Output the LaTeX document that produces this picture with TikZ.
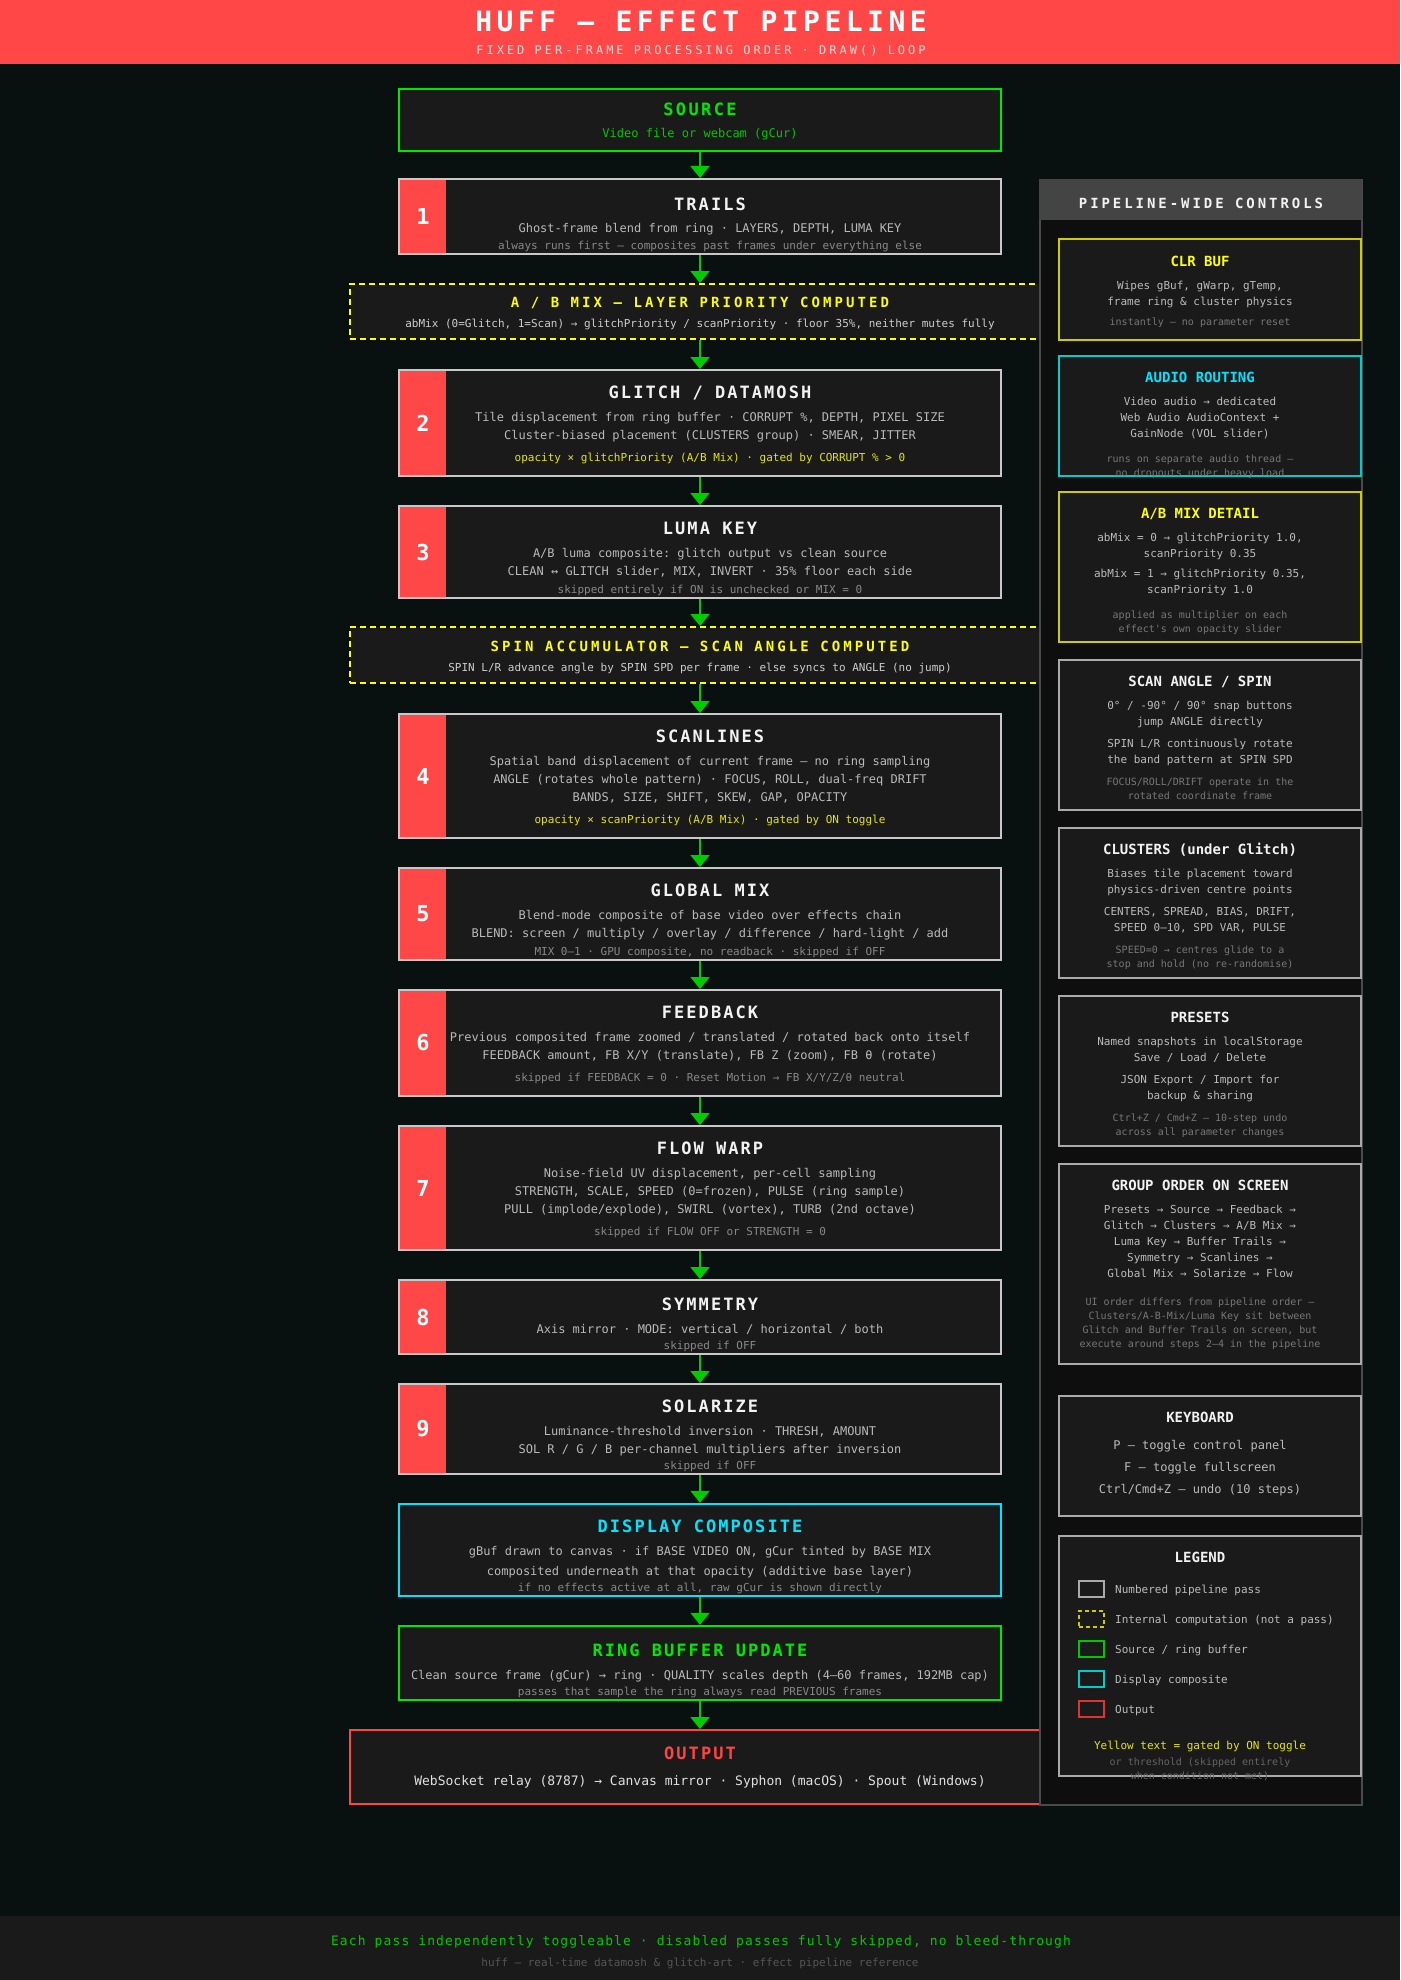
\documentclass[tikz,border=0pt]{standalone}
\usepackage{fontspec}
\setmonofont{DejaVu Sans Mono}
\renewcommand{\familydefault}{\ttdefault}
\usetikzlibrary{arrows.meta}
\definecolor{bg}{RGB}{9,16,16}
\definecolor{headred}{RGB}{255,71,71}
\definecolor{headsub}{RGB}{255,218,218}
\definecolor{boxfill}{RGB}{26,26,26}
\definecolor{passborder}{RGB}{200,200,200}
\definecolor{srcgreen}{RGB}{0,232,0}
\definecolor{srcsub}{RGB}{0,200,0}
\definecolor{arrgreen}{RGB}{0,204,0}
\definecolor{dispcyan}{RGB}{0,229,255}
\definecolor{outred}{RGB}{255,68,68}
\definecolor{numred}{RGB}{255,71,71}
\definecolor{dashyellow}{RGB}{255,255,0}
\definecolor{gateyellow}{RGB}{230,230,0}
\definecolor{titlewhite}{RGB}{242,242,242}
\definecolor{bodygray}{RGB}{185,185,185}
\definecolor{dimgray}{RGB}{136,136,136}
\definecolor{subgray}{RGB}{205,205,205}
\definecolor{outtext}{RGB}{224,224,224}
\definecolor{panelfill}{RGB}{14,14,14}
\definecolor{panelborder}{RGB}{74,74,74}
\definecolor{panelhead}{RGB}{68,68,68}
\definecolor{sideyellow}{RGB}{204,204,0}
\definecolor{sidecyan}{RGB}{0,204,204}
\definecolor{sidegray}{RGB}{170,170,170}
\definecolor{sidebody}{RGB}{187,187,187}
\definecolor{sidedim}{RGB}{119,119,119}
\definecolor{legdim}{RGB}{100,100,100}
\definecolor{legred}{RGB}{221,51,51}
\definecolor{footfill}{RGB}{26,26,26}
\definecolor{footgreen}{RGB}{0,200,0}
\definecolor{footgray}{RGB}{85,85,85}
\newcommand\fsz[1]{\fontsize{#1}{#1}\selectfont}
\newcommand\lsp[1]{\addfontfeature{LetterSpace=#1}}
\begin{document}
\begin{tikzpicture}[x=1pt,y=-1pt,
  passbox/.style={draw=passborder, fill=boxfill, line width=2pt, minimum width=602, inner sep=0pt},
  greenbox/.style={passbox, draw=srcgreen, line width=2.5pt},
  cyanbox/.style={passbox, draw=dispcyan, line width=2.5pt},
  dashbox/.style={draw=dashyellow, fill=boxfill, line width=2pt, dash pattern=on 6pt off 4pt, minimum width=700, inner sep=0pt},
  outbox/.style={draw=outred, fill=boxfill, line width=2pt, minimum width=700, inner sep=0pt},
  strip/.style={fill=numred, minimum width=46, inner sep=0pt, text=white, font=\fsz{22}\bfseries},
  arr/.style={draw=arrgreen, line width=2pt, -{Triangle[width=19pt,length=12pt]}},
  tt/.style={inner sep=0pt, anchor=mid},
  ttl/.style={tt, yshift=-4pt, text=titlewhite, font=\fsz{17}\bfseries\lsp{12}},
  body/.style={tt, yshift=-3pt, text=bodygray, font=\fsz{12}},
  dim/.style={tt, yshift=-2.5pt, text=dimgray, font=\fsz{11}},
  gate/.style={tt, yshift=-2.5pt, text=gateyellow, font=\fsz{11}},
  dttl/.style={tt, yshift=-3pt, text=dashyellow, font=\fsz{14}\bfseries\lsp{22}},
  dsub/.style={tt, yshift=-2.5pt, text=subgray, font=\fsz{11}},
  sidebox/.style={fill=boxfill, line width=2pt, minimum width=302, inner sep=0pt},
  sttl/.style={tt, yshift=-3.5pt, text=titlewhite, font=\fsz{14}\bfseries},
  sbody/.style={tt, yshift=-2.5pt, text=sidebody, font=\fsz{11}},
  sdim/.style={tt, yshift=-2.5pt, text=sidedim, font=\fsz{10}},
  swatch/.style={fill=boxfill, line width=2pt, minimum width=25, minimum height=16, inner sep=0pt},
  legtext/.style={inner sep=0pt, anchor=mid west, yshift=-2pt, text=sidebody, font=\fsz{11}}
]
\useasboundingbox (0,0) rectangle (1400,1980);
\fill[bg] (0,0) rectangle (1400,1980);
% header
\fill[headred] (0,0) rectangle (1400,64);
\node[tt, yshift=-7pt, text=white, font=\fsz{28}\bfseries\lsp{16}] (title) at (701,22) {HUFF — EFFECT PIPELINE};
\node[tt, yshift=-2.5pt, text=headsub, font=\fsz{12}\lsp{25}] (subtitle) at (701,49.5) {FIXED PER-FRAME PROCESSING ORDER · DRAW() LOOP};

% main boxes
\node[greenbox, minimum height=62] (source) at (700,120) {};
\node[passbox, minimum height=75] (trails) at (700,216.5) {};
\node[strip, minimum height=73] (n1) at (423,216.5) {1};
\node[dashbox, minimum height=55] (abmix) at (700,311.5) {};
\node[passbox, minimum height=106] (glitch) at (700,423) {};
\node[strip, minimum height=104] (n2) at (423,423) {2};
\node[passbox, minimum height=92] (luma) at (700,552) {};
\node[strip, minimum height=90] (n3) at (423,552) {3};
\node[dashbox, minimum height=56] (spin) at (700,655) {};
\node[passbox, minimum height=124] (scan) at (700,776) {};
\node[strip, minimum height=122] (n4) at (423,776) {4};
\node[passbox, minimum height=92] (global) at (700,914) {};
\node[strip, minimum height=90] (n5) at (423,914) {5};
\node[passbox, minimum height=106] (feedback) at (700,1043) {};
\node[strip, minimum height=104] (n6) at (423,1043) {6};
\node[passbox, minimum height=124] (flow) at (700,1188) {};
\node[strip, minimum height=122] (n7) at (423,1188) {7};
\node[passbox, minimum height=74] (sym) at (700,1317) {};
\node[strip, minimum height=72] (n8) at (423,1317) {8};
\node[passbox, minimum height=90] (sol) at (700,1429) {};
\node[strip, minimum height=88] (n9) at (423,1429) {9};
\node[cyanbox, minimum height=92] (display) at (700,1550) {};
\node[greenbox, minimum height=74] (ring) at (700,1663) {};
\node[outbox, minimum height=74] (output) at (700,1767) {};

% main texts
\node[ttl, text=srcgreen, font=\fsz{17}\bfseries\lsp{14}] (sourceT) at (700,109) {SOURCE};
\node[body, text=srcsub] (sourceS) at (700,132) {Video file or webcam (gCur)};

\node[ttl] (trailsT) at (710,204) {TRAILS};
\node[body] (trailsA) at (710,227) {Ghost-frame blend from ring · LAYERS, DEPTH, LUMA KEY};
\node[dim] (trailsB) at (710,244) {always runs first — composites past frames under everything else};

\node[dttl] (abmixT) at (700,302) {A / B MIX — LAYER PRIORITY COMPUTED};
\node[dsub] (abmixS) at (700,322) {abMix (0=Glitch, 1=Scan) → glitchPriority / scanPriority · floor 35\%, neither mutes fully};

\node[ttl] (glitchT) at (710,392) {GLITCH / DATAMOSH};
\node[body] (glitchA) at (710,416) {Tile displacement from ring buffer · CORRUPT \%, DEPTH, PIXEL SIZE};
\node[body] (glitchB) at (710,434) {Cluster-biased placement (CLUSTERS group) · SMEAR, JITTER};
\node[gate] (glitchC) at (710,456) {opacity × glitchPriority (A/B Mix) · gated by CORRUPT \% > 0};

\node[ttl] (lumaT) at (710,528) {LUMA KEY};
\node[body] (lumaA) at (710,552) {A/B luma composite: glitch output vs clean source};
\node[body] (lumaB) at (710,570) {CLEAN ↔ GLITCH slider, MIX, INVERT · 35\% floor each side};
\node[dim] (lumaC) at (710,588) {skipped entirely if ON is unchecked or MIX = 0};

\node[dttl] (spinT) at (700,646) {SPIN ACCUMULATOR — SCAN ANGLE COMPUTED};
\node[dsub] (spinS) at (700,666) {SPIN L/R advance angle by SPIN SPD per frame · else syncs to ANGLE (no jump)};

\node[ttl] (scanT) at (710,736) {SCANLINES};
\node[body] (scanA) at (710,760) {Spatial band displacement of current frame — no ring sampling};
\node[body] (scanB) at (710,778) {ANGLE (rotates whole pattern) · FOCUS, ROLL, dual-freq DRIFT};
\node[body] (scanC) at (710,796) {BANDS, SIZE, SHIFT, SKEW, GAP, OPACITY};
\node[gate] (scanD) at (710,818) {opacity × scanPriority (A/B Mix) · gated by ON toggle};

\node[ttl] (globalT) at (710,890) {GLOBAL MIX};
\node[body] (globalA) at (710,914) {Blend-mode composite of base video over effects chain};
\node[body] (globalB) at (710,932) {BLEND: screen / multiply / overlay / difference / hard-light / add};
\node[dim] (globalC) at (710,950) {MIX 0–1 · GPU composite, no readback · skipped if OFF};

\node[ttl] (feedbackT) at (710,1012) {FEEDBACK};
\node[body] (feedbackA) at (710,1036) {Previous composited frame zoomed / translated / rotated back onto itself};
\node[body] (feedbackB) at (710,1054) {FEEDBACK amount, FB X/Y (translate), FB Z (zoom), FB θ (rotate)};
\node[dim] (feedbackC) at (710,1076) {skipped if FEEDBACK = 0 · Reset Motion → FB X/Y/Z/θ neutral};

\node[ttl] (flowT) at (710,1148) {FLOW WARP};
\node[body] (flowA) at (710,1172) {Noise-field UV displacement, per-cell sampling};
\node[body] (flowB) at (710,1190) {STRENGTH, SCALE, SPEED (0=frozen), PULSE (ring sample)};
\node[body] (flowC) at (710,1208) {PULL (implode/explode), SWIRL (vortex), TURB (2nd octave)};
\node[dim] (flowD) at (710,1230) {skipped if FLOW OFF or STRENGTH = 0};

\node[ttl] (symT) at (710,1304) {SYMMETRY};
\node[body] (symA) at (710,1328) {Axis mirror · MODE: vertical / horizontal / both};
\node[dim] (symB) at (710,1344) {skipped if OFF};

\node[ttl] (solT) at (710,1406) {SOLARIZE};
\node[body] (solA) at (710,1430) {Luminance-threshold inversion · THRESH, AMOUNT};
\node[body] (solB) at (710,1448) {SOL R / G / B per-channel multipliers after inversion};
\node[dim] (solC) at (710,1464) {skipped if OFF};

\node[ttl, text=dispcyan] (displayT) at (700,1526) {DISPLAY COMPOSITE};
\node[body] (displayA) at (700,1550) {gBuf drawn to canvas · if BASE VIDEO ON, gCur tinted by BASE MIX};
\node[body] (displayB) at (700,1570) {composited underneath at that opacity (additive base layer)};
\node[dim] (displayC) at (700,1586) {if no effects active at all, raw gCur is shown directly};

\node[ttl, text=srcgreen] (ringT) at (700,1650) {RING BUFFER UPDATE};
\node[body] (ringA) at (700,1674) {Clean source frame (gCur) → ring · QUALITY scales depth (4–60 frames, 192MB cap)};
\node[dim] (ringB) at (700,1690) {passes that sample the ring always read PREVIOUS frames};

\node[ttl, text=outred] (outputT) at (700,1753) {OUTPUT};
\node[tt, yshift=-2.5pt, text=outtext, font=\fsz{13}] (outputA) at (700,1780) {WebSocket relay (8787) → Canvas mirror · Syphon (macOS) · Spout (Windows)};

% connectors
\foreach \a/\b in {source/trails, trails/abmix, abmix/glitch, glitch/luma, luma/spin, spin/scan, scan/global, global/feedback, feedback/flow, flow/sym, sym/sol, sol/display, display/ring, ring/output}
  \draw[arr] (\a.south) -- (\b.north);

% side panel
\node[draw=panelborder, fill=panelfill, line width=2pt, minimum width=322, minimum height=1625, inner sep=0pt, anchor=north west] (panel) at (1039,179) {};
\node[fill=panelhead, minimum width=323, minimum height=41, inner sep=0pt, anchor=north west] (phead) at (1038.5,178.5) {};
\node[tt, yshift=-3.5pt, text=titlewhite, font=\fsz{14}\bfseries\lsp{21}] (pheadT) at (1201,202) {PIPELINE-WIDE CONTROLS};

\node[sidebox, draw=sideyellow, minimum height=101] (clr) at (1210,289.5) {};
\node[sttl, text=dashyellow] (clrT) at (1200,260) {CLR BUF};
\node[sbody] (clrA) at (1200,284) {Wipes gBuf, gWarp, gTemp,};
\node[sbody] (clrB) at (1200,300) {frame ring \& cluster physics};
\node[sdim] (clrC) at (1200,320) {instantly — no parameter reset};

\node[sidebox, draw=sidecyan, minimum height=120] (audio) at (1210,416) {};
\node[sttl, text=dispcyan] (audioT) at (1200,376) {AUDIO ROUTING};
\node[sbody] (audioA) at (1200,400) {Video audio → dedicated};
\node[sbody] (audioB) at (1200,416) {Web Audio AudioContext +};
\node[sbody] (audioC) at (1200,432) {GainNode (VOL slider)};
\node[sdim] (audioD) at (1200,457) {runs on separate audio thread —};
\node[sdim] (audioE) at (1200,471) {no dropouts under heavy load};

\node[sidebox, draw=sideyellow, minimum height=150] (abd) at (1210,567) {};
\node[sttl, text=dashyellow] (abdT) at (1200,512) {A/B MIX DETAIL};
\node[sbody] (abdA) at (1200,536) {abMix = 0 → glitchPriority 1.0,};
\node[sbody] (abdB) at (1200,552) {scanPriority 0.35};
\node[sbody] (abdC) at (1200,572) {abMix = 1 → glitchPriority 0.35,};
\node[sbody] (abdD) at (1200,588) {scanPriority 1.0};
\node[sdim] (abdE) at (1200,613) {applied as multiplier on each};
\node[sdim] (abdF) at (1200,627) {effect's own opacity slider};

\node[sidebox, draw=sidegray, minimum height=150] (sang) at (1210,735) {};
\node[sttl] (sangT) at (1200,680) {SCAN ANGLE / SPIN};
\node[sbody] (sangA) at (1200,704) {0° / -90° / 90° snap buttons};
\node[sbody] (sangB) at (1200,720) {jump ANGLE directly};
\node[sbody] (sangC) at (1200,742) {SPIN L/R continuously rotate};
\node[sbody] (sangD) at (1200,758) {the band pattern at SPIN SPD};
\node[sdim] (sangE) at (1200,780) {FOCUS/ROLL/DRIFT operate in the};
\node[sdim] (sangF) at (1200,794) {rotated coordinate frame};

\node[sidebox, draw=sidegray, minimum height=150] (clus) at (1210,903) {};
\node[sttl] (clusT) at (1200,848) {CLUSTERS (under Glitch)};
\node[sbody] (clusA) at (1200,872) {Biases tile placement toward};
\node[sbody] (clusB) at (1200,888) {physics-driven centre points};
\node[sbody] (clusC) at (1200,910) {CENTERS, SPREAD, BIAS, DRIFT,};
\node[sbody] (clusD) at (1200,926) {SPEED 0–10, SPD VAR, PULSE};
\node[sdim] (clusE) at (1200,948) {SPEED=0 → centres glide to a};
\node[sdim] (clusF) at (1200,962) {stop and hold (no re-randomise)};

\node[sidebox, draw=sidegray, minimum height=150] (pres) at (1210,1071) {};
\node[sttl] (presT) at (1200,1016) {PRESETS};
\node[sbody] (presA) at (1200,1040) {Named snapshots in localStorage};
\node[sbody] (presB) at (1200,1056) {Save / Load / Delete};
\node[sbody] (presC) at (1200,1078) {JSON Export / Import for};
\node[sbody] (presD) at (1200,1094) {backup \& sharing};
\node[sdim] (presE) at (1200,1116) {Ctrl+Z / Cmd+Z — 10-step undo};
\node[sdim] (presF) at (1200,1130) {across all parameter changes};

\node[sidebox, draw=sidegray, minimum height=200] (grp) at (1210,1264) {};
\node[sttl] (grpT) at (1200,1184) {GROUP ORDER ON SCREEN};
\node[sbody] (grpA) at (1200,1208) {Presets → Source → Feedback →};
\node[sbody] (grpB) at (1200,1224) {Glitch → Clusters → A/B Mix →};
\node[sbody] (grpC) at (1200,1240) {Luma Key → Buffer Trails →};
\node[sbody] (grpD) at (1200,1256) {Symmetry → Scanlines →};
\node[sbody] (grpE) at (1200,1272) {Global Mix → Solarize → Flow};
\node[sdim] (grpF) at (1200,1300) {UI order differs from pipeline order —};
\node[sdim] (grpG) at (1200,1314) {Clusters/A-B-Mix/Luma Key sit between};
\node[sdim] (grpH) at (1200,1328) {Glitch and Buffer Trails on screen, but};
\node[sdim] (grpI) at (1200,1342) {execute around steps 2–4 in the pipeline};

\node[sidebox, draw=sidegray, minimum height=120] (keys) at (1210,1456) {};
\node[sttl] (keysT) at (1200,1416) {KEYBOARD};
\node[sbody, yshift=-0.5pt, font=\fsz{12}] (keysA) at (1200,1444) {P — toggle control panel};
\node[sbody, yshift=-0.5pt, font=\fsz{12}] (keysB) at (1200,1466) {F — toggle fullscreen};
\node[sbody, yshift=-0.5pt, font=\fsz{12}] (keysC) at (1200,1488) {Ctrl/Cmd+Z — undo (10 steps)};

\node[sidebox, draw=sidegray, minimum height=240] (leg) at (1210,1656) {};
\node[sttl] (legT) at (1200,1556) {LEGEND};
\node[swatch, draw=sidegray] (sw1) at (1091.5,1589) {};
\node[legtext] (lg1) at (1115,1589) {Numbered pipeline pass};
\node[swatch, draw=sideyellow, dash pattern=on 4pt off 3pt] (sw2) at (1091.5,1619) {};
\node[legtext] (lg2) at (1115,1619) {Internal computation (not a pass)};
\node[swatch, draw=srcsub] (sw3) at (1091.5,1649) {};
\node[legtext] (lg3) at (1115,1649) {Source / ring buffer};
\node[swatch, draw=sidecyan] (sw4) at (1091.5,1679) {};
\node[legtext] (lg4) at (1115,1679) {Display composite};
\node[swatch, draw=legred] (sw5) at (1091.5,1709) {};
\node[legtext] (lg5) at (1115,1709) {Output};
\node[tt, yshift=-2.5pt, text=gateyellow, font=\fsz{11}] (legY) at (1200,1744) {Yellow text = gated by ON toggle};
\node[sdim, text=legdim] (legZ) at (1200,1760) {or threshold (skipped entirely};
\node[sdim, text=legdim] (legW) at (1200,1774) {when condition not met)};

% footer
\fill[footfill] (0,1916) rectangle (1400,1980);
\node[tt, yshift=-2.5pt, text=footgreen, font=\fsz{13}\lsp{8.7}] (footA) at (701,1940) {Each pass independently toggleable · disabled passes fully skipped, no bleed-through};
\node[tt, yshift=-2.5pt, text=footgray, font=\fsz{11}] (footB) at (700,1961) {huff — real-time datamosh \& glitch-art · effect pipeline reference};
\end{tikzpicture}
\end{document}
